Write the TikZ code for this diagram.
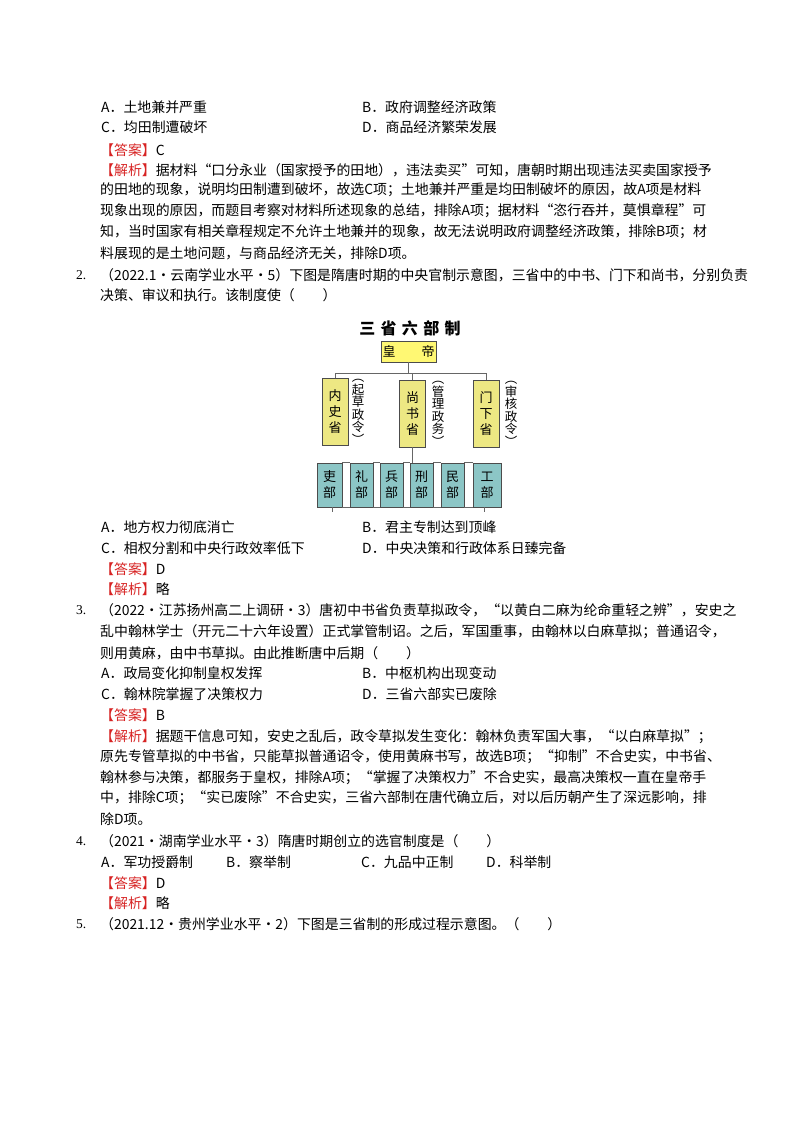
\documentclass[tikz,border=0pt]{standalone}
\usepackage{fontspec}
\setmainfont{Liberation Serif}
\newfontfamily\cjk{Noto Sans CJK SC}
\begin{document}
\begin{tikzpicture}[x=1pt,y=-1pt,
  t/.style={anchor=west,inner sep=0,font=\cjk\fontsize{13.9}{14}\selectfont},
  num/.style={anchor=west,inner sep=0,font=\fontsize{13.5}{14}\selectfont},
  ybox/.style={draw=black!70,line width=0.8pt,fill=olive!35!yellow!45,inner sep=0,minimum width=26pt,minimum height=67pt,font=\cjk\fontsize{13}{16}\selectfont,align=center},
  gbox/.style={draw=black!70,line width=0.8pt,fill=teal!45,inner sep=0,minimum height=44pt,font=\cjk\fontsize{13}{16}\selectfont,align=center},
  side/.style={inner sep=0,font=\cjk\fontsize{12.5}{12.5}\selectfont,align=center},
  ln/.style={draw=black!60,line width=0.8pt}]
\definecolor{ans}{RGB}{215,35,35}
\newcommand{\ans}{\textcolor{ans}{【答案】}}
\newcommand{\jx}{\textcolor{ans}{【解析】}}
\fill[white] (0,0) rectangle (800,1132);
\useasboundingbox (0,0) rectangle (800,1132);
% Q1 tail
\node[t] (l1) at (101,107) {A．土地兼并严重};
\node[t] (l1b) at (362,107) {B．政府调整经济政策};
\node[t] (l2) at (101,127) {C．均田制遭破坏};
\node[t] (l2b) at (362,127) {D．商品经济繁荣发展};
\node[t] (l3) at (100,150) {\ans C};
\node[t] (l4) at (100,170) {\jx 据材料“口分永业（国家授予的田地），违法卖买”可知，唐朝时期出现违法买卖国家授予};
\node[t] (l5) at (100,190) {的田地的现象，说明均田制遭到破坏，故选C项；土地兼并严重是均田制破坏的原因，故A项是材料};
\node[t] (l6) at (100,211) {现象出现的原因，而题目考察对材料所述现象的总结，排除A项；据材料“恣行吞并，莫惧章程”可};
\node[t] (l7) at (100,232) {知，当时国家有相关章程规定不允许土地兼并的现象，故无法说明政府调整经济政策，排除B项；材};
\node[t] (l8) at (100,253) {料展现的是土地问题，与商品经济无关，排除D项。};
% Q2
\node[num] (n2) at (76,275) {2.};
\node[t] (q2a) at (100,275) {（2022.1·云南学业水平·5）下图是隋唐时期的中央官制示意图，三省中的中书、门下和尚书，分别负责};
\node[t] (q2b) at (100,295) {决策、审议和执行。该制度使（\quad\quad ）};
% diagram
\node[inner sep=0,font=\cjk\bfseries\fontsize{16}{16}\selectfont] (title) at (410,328) {三\,\,省\,\,六\,\,部\,\,制};
\node[draw=black!70,line width=0.8pt,fill=yellow!55,inner sep=0,minimum width=55pt,minimum height=21pt,font=\cjk\fontsize{13}{13}\selectfont] (hd) at (408.5,351.5) {皇\quad\quad 帝};
\node[ybox] (nei) at (335,411.5) {内\\史\\省};
\node[ybox] (shang) at (412.5,413.5) {尚\\书\\省};
\node[ybox] (men) at (486,413.5) {门\\下\\省};
\node[side] (s1) at (358,412) {︵\\起\\草\\政\\令\\︶};
\node[side] (s2) at (438,414) {︵\\管\\理\\政\\务\\︶};
\node[side] (s3) at (511,414) {︵\\审\\核\\政\\令\\︶};
\coordinate (jL) at (335,373);
\coordinate (jR) at (486,373);
\coordinate (jM) at (412.5,373);
\draw[ln] (hd.south) -- (hd.south |- jM);
\draw[ln] (nei.north) -- (jL) -- (jR) -- (men.north);
\draw[ln] (jM) -- (shang.north);
\node[gbox,minimum width=25pt] (b1) at (329.5,485) {吏\\部};
\node[gbox,minimum width=23pt] (b2) at (361.5,485) {礼\\部};
\node[gbox,minimum width=23pt] (b3) at (391.5,485) {兵\\部};
\node[gbox,minimum width=23pt] (b4) at (421.5,485) {刑\\部};
\node[gbox,minimum width=23pt] (b5) at (452.5,485) {民\\部};
\node[gbox,minimum width=28pt] (b6) at (487,485) {工\\部};
\draw[ln] (shang.south) -- (b4.north -| shang.south);
\draw[ln] (b1.north east) -- (b2.north west) (b2.north east) -- (b3.north west) (b3.north east) -- (b4.north west) (b4.north east) -- (b5.north west) (b5.north east) -- (b6.north west);
\draw[ln] (b1.south east) -- (b2.south west) (b2.south east) -- (b3.south west) (b3.south east) -- (b4.south west) (b4.south east) -- (b5.south west) (b5.south east) -- (b6.south west);
\coordinate (t1) at (332,512);
\coordinate (t6) at (484,512);
\draw[ln] (b1.south -| t1) -- (t1);
\draw[ln] (b6.south -| t6) -- (t6);
% Q2 options
\node[t] (o1) at (101,527) {A．地方权力彻底消亡};
\node[t] (o1b) at (362,527) {B．君主专制达到顶峰};
\node[t] (o2) at (101,548) {C．相权分割和中央行政效率低下};
\node[t] (o2b) at (362,548) {D．中央决策和行政体系日臻完备};
\node[t] (a2) at (100,569) {\ans D};
\node[t] (j2) at (100,589) {\jx 略};
% Q3
\node[num] (n3) at (76,610) {3.};
\node[t] (q3a) at (100,610) {（2022·江苏扬州高二上调研·3）唐初中书省负责草拟政令，“以黄白二麻为纶命重轻之辨”，安史之};
\node[t] (q3b) at (100,632) {乱中翰林学士（开元二十六年设置）正式掌管制诏。之后，军国重事，由翰林以白麻草拟；普通诏令，};
\node[t] (q3c) at (100,653) {则用黄麻，由中书草拟。由此推断唐中后期（\quad\quad ）};
\node[t] (p1) at (101,673) {A．政局变化抑制皇权发挥};
\node[t] (p1b) at (362,673) {B．中枢机构出现变动};
\node[t] (p2) at (101,694) {C．翰林院掌握了决策权力};
\node[t] (p2b) at (362,694) {D．三省六部实已废除};
\node[t] (a3) at (100,715) {\ans B};
\node[t] (j3a) at (100,737) {\jx 据题干信息可知，安史之乱后，政令草拟发生变化：翰林负责军国大事，“以白麻草拟”；};
\node[t] (j3b) at (100,757) {原先专管草拟的中书省，只能草拟普通诏令，使用黄麻书写，故选B项；“抑制”不合史实，中书省、};
\node[t] (j3c) at (100,778) {翰林参与决策，都服务于皇权，排除A项；“掌握了决策权力”不合史实，最高决策权一直在皇帝手};
\node[t] (j3d) at (100,798) {中，排除C项；“实已废除”不合史实，三省六部制在唐代确立后，对以后历朝产生了深远影响，排};
\node[t] (j3e) at (100,819) {除D项。};
% Q4
\node[num] (n4) at (76,841) {4.};
\node[t] (q4) at (100,841) {（2021·湖南学业水平·3）隋唐时期创立的选官制度是（\quad\quad ）};
\node[t] (r1) at (101,862) {A．军功授爵制};
\node[t] (r2) at (226,862) {B．察举制};
\node[t] (r3) at (361,862) {C．九品中正制};
\node[t] (r4) at (486,862) {D．科举制};
\node[t] (a4) at (100,883) {\ans D};
\node[t] (j4) at (100,903) {\jx 略};
% Q5
\node[num] (n5) at (76,924) {5.};
\node[t] (q5) at (100,924) {（2021.12·贵州学业水平·2）下图是三省制的形成过程示意图。（\quad\quad ）};
\end{tikzpicture}
\end{document}
